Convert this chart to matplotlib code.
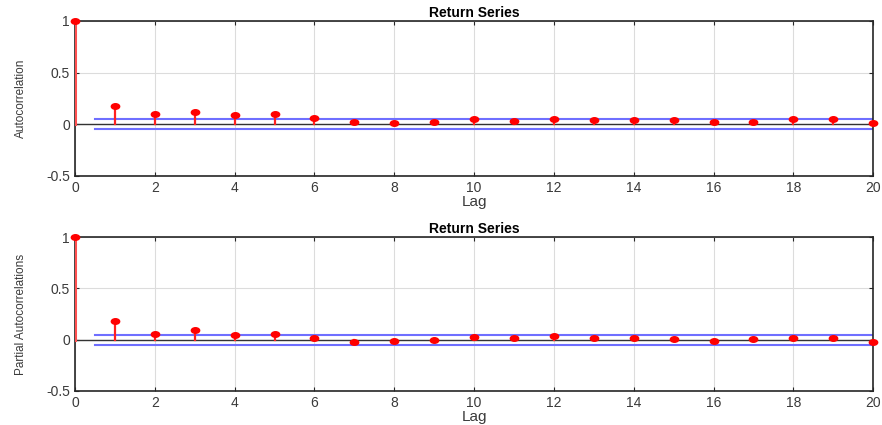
import matplotlib
matplotlib.use('Agg')
import matplotlib.pyplot as plt
from matplotlib.path import Path
from matplotlib.transforms import Affine2D
import numpy as np

# Sample ACF / PACF values (lags 0..20)
lags = np.arange(0, 21)
acf = [1.0, 0.18, 0.10, 0.12, 0.09, 0.10, 0.06, 0.02, 0.01, 0.02, 0.05,
       0.035, 0.05, 0.04, 0.04, 0.04, 0.02, 0.025, 0.05, 0.05, 0.01]
pacf = [1.0, 0.18, 0.06, 0.09, 0.05, 0.06, 0.013, -0.023, -0.013, -0.002, 0.03,
        0.015, 0.035, 0.015, 0.015, 0.01, -0.013, 0.003, 0.02, 0.02, -0.023]
acf_bound = 0.048
pacf_bound = 0.048
titles = ['Return Series', 'Return Series']
ylabels = ['Autocorrelation', 'Partial Autocorrelations']

plt.rcParams['font.family'] = ['Liberation Sans', 'DejaVu Sans']

# slightly wide ellipse marker (the reference image is stretched horizontally)
ellipse = Path.unit_circle().transformed(Affine2D().scale(1.5, 1.0))

fig = plt.figure(figsize=(8.82, 4.25), dpi=100)
ax1 = fig.add_axes([0.085, 0.586, 0.905, 0.365])
ax2 = fig.add_axes([0.085, 0.080, 0.905, 0.362])

edge = '#262626'
for ax, vals, bound, title, ylab in zip([ax1, ax2], [acf, pacf],
                                        [acf_bound, pacf_bound], titles, ylabels):
    ax.grid(True, color='#dcdcdc', linewidth=0.8)
    ax.set_axisbelow(True)
    # stems
    for lag, v in zip(lags, vals):
        lw = 2.2 if lag == 0 else 1.6
        col = '#ff5050' if lag == 0 else '#ff2020'
        ax.plot([lag, lag], [0, v], color=col, linewidth=lw, zorder=3)
    ax.plot(lags, vals, linestyle='none', marker=ellipse, color='red',
            markersize=6, zorder=4, clip_on=False)
    # baseline
    ax.plot([0, 20], [0, 0], color='#333333', linewidth=1.0, zorder=2)
    # confidence bounds
    ax.plot([0.5, 20], [bound, bound], color='#6f6fff', linewidth=1.5, zorder=2)
    ax.plot([0.5, 20], [-bound, -bound], color='#6f6fff', linewidth=1.5, zorder=2)

    ax.set_xlim(0, 20)
    ax.set_ylim(-0.5, 1)
    ax.set_xticks(np.arange(0, 21, 2))
    ax.set_yticks([-0.5, 0, 0.5, 1])
    ax.set_yticklabels(['-0.5', '0', '0.5', '1'])
    ax.tick_params(direction='in', length=3, labelsize=10, colors=edge,
                   labelcolor='#3a3a3a', top=True, right=True)
    for s in ax.spines.values():
        s.set_color(edge)
        s.set_linewidth(1.2)
    ax.set_title(title, fontsize=10, fontweight='bold', pad=3)
    ax.set_xlabel('Lag', fontsize=11, labelpad=0, color='#3a3a3a')
    ax.set_ylabel(ylab, fontsize=8.5, labelpad=14, color='#3a3a3a')

fig.savefig('out.png', dpi=100)
